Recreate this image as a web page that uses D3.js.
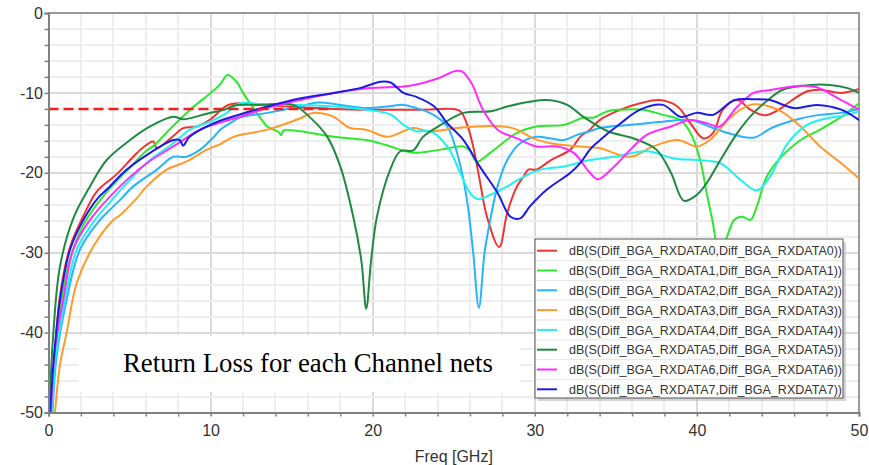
<!DOCTYPE html>
<meta charset="utf-8">
<style>
  body { margin: 0; background: #fff; }
  .grid line { shape-rendering: crispEdges; }
  .axis text { font-family: "Liberation Sans", Arial, sans-serif; font-size: 16px; fill: #333; }
  .axis path, .axis line { stroke: #808080; }
  .legend text { font-family: "Liberation Sans", Arial, sans-serif; font-size: 13.5px; fill: #333; }
</style>
<body>
<script src="https://cdn.jsdelivr.net/npm/d3@7"></script>
<script>
// series names and colours (legend order)
var names = [0,1,2,3,4,5,6,7].map(function(i) {
  return "dB(S(Diff_BGA_RXDATA" + i + ",Diff_BGA_RXDATA" + i + "))";
});
var colors = ["#f03232", "#2ee82e", "#26b4ff", "#ff9a2a", "#22f0f0", "#1f8a40", "#ff2cff", "#1c1ce8"];

// [freq GHz, dB]
var rx0 = [[0.2,-50],[0.35,-44],[0.7,-35.5],[1.33,-29.3],[2.2,-25.2],[3.0,-22.3],[4.2,-20.2],[5.23,-18],[5.85,-16.8],[6.47,-16.1],[6.68,-16.9],[7.7,-15.4],[8.3,-14.4],[9.15,-14.2],[10.0,-13.3],[11.0,-11.6],[11.8,-11.3],[13.5,-11.5],[15.5,-11.8],[17.6,-12],[19.6,-12.1],[21.1,-12.1],[23.1,-12.1],[24.8,-12],[25.4,-12.3],[25.8,-13.8],[26.2,-16.7],[26.6,-20.9],[27.05,-25.5],[27.8,-29.3],[28.3,-25],[28.9,-21.7],[29.3,-20.5],[29.6,-19.6],[30.1,-19.6],[31.0,-18.4],[32.2,-17.1],[32.8,-15.5],[33.4,-14.6],[34.0,-13.4],[35.3,-12.1],[36.5,-11.3],[37.7,-10.9],[38.8,-11.7],[39.6,-13.8],[40.4,-15.7],[41.0,-15],[41.6,-12.1],[42.5,-10.9],[43.3,-12.1],[44.2,-12.8],[45.2,-11.9],[45.6,-11.3],[46.8,-9.8],[47.6,-9.6],[48.9,-10],[50,-9.5]];
var rx1 = [[0.15,-50],[0.35,-44.5],[0.75,-36.5],[1.4,-30.3],[2.3,-26],[3.6,-22.4],[5.0,-19.4],[6.0,-17.3],[6.5,-16.6],[7.6,-14.3],[8.74,-12.1],[10.0,-10.0],[10.6,-8.9],[11.05,-7.75],[11.6,-8.6],[12.0,-10],[12.85,-12.5],[13.5,-14.2],[14.2,-14.9],[14.35,-15.3],[14.5,-14.7],[15.5,-14.8],[17.6,-15.5],[19.6,-15.9],[21.1,-16.7],[21.7,-17.1],[22.5,-17.5],[24.2,-17.1],[25.6,-16.7],[26.0,-17.2],[26.4,-18.6],[27.25,-17.5],[28.9,-15],[30.1,-14.2],[31.8,-14],[33.0,-13.1],[33.6,-13.1],[34.5,-12.3],[35.3,-12.1],[36.7,-12.1],[37.9,-12.75],[39.0,-13.4],[39.6,-15],[40.2,-18.4],[40.6,-22.5],[40.95,-25.9],[41.35,-29.5],[41.75,-28.5],[42.3,-25.9],[42.8,-25.5],[43.3,-25.9],[43.7,-24.2],[44.3,-20.5],[45.2,-18],[46.4,-15.9],[47.6,-14.6],[48.9,-13],[50,-11.3]];
var rx2 = [[0.25,-50],[0.5,-43],[1.12,-35.9],[1.94,-29.6],[3.18,-25.9],[3.6,-25.0],[4.5,-23.2],[5.23,-21.7],[6.68,-19.6],[7.7,-18],[8.5,-18],[9.35,-17.1],[10.2,-15.5],[10.6,-14.6],[11.2,-13.8],[11.8,-13.1],[13.5,-12.5],[15.5,-11.7],[16.6,-11.2],[18,-11.5],[19.6,-11.9],[20.9,-11.7],[21.9,-11.5],[22.7,-11.9],[23.75,-12.75],[24.6,-14.2],[25.2,-17.5],[25.6,-20.9],[25.9,-24.6],[26.2,-30],[26.55,-36.9],[26.9,-30],[27.25,-25.9],[27.7,-21.7],[28.3,-18.4],[29.1,-16.3],[30.1,-15.5],[31.0,-15.7],[31.8,-15.9],[32.6,-15.25],[33.4,-14.8],[34,-14.4],[35.9,-14],[37.9,-13.6],[39.6,-13.4],[41,-14.4],[42.3,-15.25],[43.5,-15.6],[44.7,-14.3],[46.4,-13.2],[47.6,-12.75],[48.9,-12.5],[50,-12]];
var rx3 = [[0.4,-50],[0.71,-44],[1.12,-40],[1.74,-33.8],[2.77,-29.2],[4.0,-25.9],[4.41,-25.3],[5.44,-23.2],[6.06,-21.7],[7.3,-19.6],[8.5,-18.6],[9.77,-17.1],[10.6,-16.4],[11.4,-15.5],[13.5,-14.6],[15.5,-13.2],[16.3,-12.5],[17.0,-12.6],[17.6,-13],[18.6,-14.4],[19.6,-14.6],[20.9,-15.5],[21.9,-14.8],[22.5,-14.4],[23.5,-14.8],[25.2,-14.4],[26.4,-14.2],[28.1,-14.2],[28.9,-14.6],[29.9,-15.7],[30.96,-16.3],[32.2,-16.6],[33.4,-16.8],[34,-16.9],[35.9,-18],[37.3,-16.7],[38.8,-15.9],[40,-16.7],[40.8,-15.9],[42.1,-13],[43.3,-11.5],[44.3,-11.6],[45.2,-12.3],[46.4,-14.2],[47.6,-16.7],[48.9,-18.8],[50,-20.7]];
var rx4 = [[0.22,-50],[0.45,-43],[1.02,-35.9],[1.74,-29.6],[2.87,-25.9],[4.0,-23.2],[4.83,-21.3],[6.27,-18.4],[7.7,-16.3],[8.73,-14.6],[9.97,-13.6],[11.0,-12.5],[11.8,-11.3],[13.5,-11.5],[15.5,-11.5],[17.6,-11.7],[19.6,-12.1],[21.1,-12.7],[21.9,-14],[22.7,-14.8],[23.55,-14.8],[24.6,-16.7],[25.4,-20],[26.0,-22.5],[26.5,-23.3],[27.25,-22.75],[28.3,-21.7],[29.3,-20.5],[30.35,-19.6],[31.8,-19.2],[33.4,-18.4],[34.9,-18],[36.9,-17.3],[38.6,-18.2],[40,-18.4],[41.45,-18.8],[42.7,-20.9],[43.7,-22.2],[44.5,-20.5],[45.6,-16.3],[46.8,-14],[48,-13.2],[49.3,-12.75],[50,-12.3]];
var rx5 = [[0.05,-50],[0.3,-40],[0.71,-31.7],[1.53,-25.7],[2.56,-21.7],[3.59,-18.4],[5.03,-15.9],[6.27,-14.2],[7.7,-13.0],[8.32,-13.3],[9.77,-12.6],[11.0,-12.0],[11.4,-11.6],[13,-11.5],[15.1,-11.5],[16.1,-13],[17.2,-15.5],[18.0,-19.2],[18.8,-25.5],[19.3,-31],[19.6,-37],[19.9,-31],[20.26,-25.5],[21.08,-19.6],[21.7,-17.3],[22.5,-17.2],[23.1,-15.5],[24.2,-14],[25.6,-12.5],[27.3,-12.3],[28.3,-11.7],[29.7,-11.1],[30.75,-10.9],[32.0,-11.5],[33.0,-13],[34.5,-14.8],[36.1,-15.7],[37.5,-17.1],[38.4,-20],[39.2,-23.5],[40,-22.75],[40.6,-21.3],[41.45,-18.4],[42.5,-15],[43.5,-12.5],[44.5,-10.7],[45.3,-9.6],[47,-9],[48.2,-9],[49.3,-9.4],[50,-10]];
var rx6 = [[0.15,-50],[0.4,-42],[0.91,-35.9],[1.53,-29.6],[2.56,-25.9],[4.41,-21.7],[6.06,-18.8],[7.7,-16.7],[9.35,-14.6],[10.8,-13.6],[11.8,-13],[13.5,-11.9],[15.5,-10.9],[17.6,-10],[19.85,-9.4],[22.3,-9.1],[24,-8.2],[25.1,-7.25],[25.5,-7.3],[26.1,-8.8],[26.8,-12.1],[27.7,-14.6],[28.9,-15.7],[30.1,-16.7],[31.4,-16.7],[32.4,-17.5],[33.4,-20],[33.9,-20.8],[34.9,-19.2],[35.9,-17.1],[36.9,-15.25],[38.4,-14.2],[39.6,-13.4],[40.6,-13.8],[41.4,-14.2],[42.5,-11.7],[43.5,-10],[44.3,-9.7],[46.4,-9.1],[47.4,-9.3],[48.9,-10.9],[50,-12.1]];
var rx7 = [[0.1,-50],[0.3,-44],[0.71,-35.9],[1.33,-29.6],[2.15,-25.9],[3.07,-23.1],[3.59,-22.1],[4.83,-19.6],[6.27,-17.5],[7.7,-15.9],[8.1,-15.9],[8.3,-16.6],[8.7,-15.5],[10.2,-13.8],[11.8,-12.7],[13.5,-11.7],[15.5,-10.7],[17.6,-10],[19.2,-9.4],[20.5,-8.6],[21.1,-8.7],[21.9,-10],[22.7,-10.5],[23.8,-11.7],[24.6,-13.8],[25.6,-15.9],[26.6,-19.2],[27.7,-22.5],[28.5,-25.5],[29.1,-25.7],[29.7,-24.2],[30.75,-22.1],[32.2,-20],[32.8,-18.8],[33.4,-17.1],[33.8,-16.3],[35.3,-13.8],[36.5,-12.1],[37.9,-11.5],[39,-13],[40,-12.5],[41,-12.75],[42.3,-10.9],[43.5,-10.8],[44.5,-10.9],[46,-11.9],[47.4,-11.5],[48.9,-12.1],[50,-13.4]];
var series = [rx0, rx1, rx2, rx3, rx4, rx5, rx6, rx7];

// -12 dB limit line
var limitFreq = [0, 17.4];
var limitDb = -12;

var xTicks = [0, 10, 20, 30, 40, 50];
var yTicks = [0, -10, -20, -30, -40, -50];
var title = "Return Loss for each Channel nets";
var xLabel = "Freq [GHz]";

var width = 869, height = 465;
var x = d3.scaleLinear().domain([0, 50]).range([48.5, 859]);
var y = d3.scaleLinear().domain([-50, 0]).range([412.5, 13]);

var svg = d3.select("body").append("svg")
    .attr("width", width)
    .attr("height", height);

svg.append("defs").append("clipPath").attr("id", "plot")
  .append("rect")
    .attr("x", x(0)).attr("y", y(0))
    .attr("width", x(50) - x(0)).attr("height", y(-50) - y(0));

// grid
var grid = svg.append("g").attr("class", "grid");
grid.selectAll(".vx").data(d3.range(2, 50, 2)).enter().append("line")
    .attr("x1", function(d) { return Math.round(x(d)); })
    .attr("x2", function(d) { return Math.round(x(d)); })
    .attr("y1", y(0)).attr("y2", y(-50))
    .attr("stroke", function(d) { return d % 10 == 0 ? "#dadada" : "#eeeeee"; })
    .attr("stroke-width", 2);
grid.selectAll(".hy").data(d3.range(-48, 0, 2)).enter().append("line")
    .attr("y1", function(d) { return Math.round(y(d)); })
    .attr("y2", function(d) { return Math.round(y(d)); })
    .attr("x1", x(0)).attr("x2", x(50))
    .attr("stroke", function(d) { return d % 10 == 0 ? "#dadada" : "#eeeeee"; })
    .attr("stroke-width", 2);

// frame top / right
svg.append("path")
    .attr("d", "M" + x(0) + "," + y(0) + "H" + x(50) + "V" + y(-50))
    .attr("fill", "none")
    .attr("stroke", "#9a9a9a")
    .attr("stroke-width", 2);

// title box (covers grid)
svg.append("rect")
    .attr("x", 78).attr("y", 336)
    .attr("width", 442).attr("height", 56)
    .attr("fill", "#fff");
svg.append("text")
    .attr("x", 123).attr("y", 371.5)
    .style("font-family", "'Liberation Serif', 'Times New Roman', serif")
    .style("font-size", "26.8px")
    .style("fill", "#000")
    .text(title);

// curves
var line = d3.line()
    .x(function(d) { return x(d[0]); })
    .y(function(d) { return y(d[1]); })
    .curve(d3.curveCatmullRom.alpha(0.5));

svg.append("g").attr("clip-path", "url(#plot)")
  .selectAll("path").data(series).enter().append("path")
    .attr("d", line)
    .attr("fill", "none")
    .attr("stroke", function(d, i) { return colors[i]; })
    .attr("stroke-width", 2)
    .attr("stroke-linejoin", "round");

svg.append("line")
    .attr("x1", x(limitFreq[0])).attr("x2", x(limitFreq[1]))
    .attr("y1", y(limitDb)).attr("y2", y(limitDb))
    .attr("stroke", "#f02020")
    .attr("stroke-width", 2.5)
    .attr("stroke-dasharray", "10,5");

// axes
var yAxis = d3.axisLeft(y)
    .tickValues(d3.range(-50, 1, 2))
    .tickSize(4).tickPadding(1.5)
    .tickFormat(function(d) { return yTicks.indexOf(d) >= 0 ? d : ""; });
var xAxis = d3.axisBottom(x)
    .tickValues(d3.range(0, 51, 2))
    .tickSize(4).tickPadding(8)
    .tickFormat(function(d) { return xTicks.indexOf(d) >= 0 ? d : ""; });

var gy = svg.append("g").attr("class", "axis").attr("transform", "translate(" + x(0) + ",0)").call(yAxis);
var gx = svg.append("g").attr("class", "axis").attr("transform", "translate(0," + y(-50) + ")").call(xAxis);
[gx, gy].forEach(function(g) {
  g.select(".domain").attr("stroke", "#7a7a7a").attr("stroke-width", 2);
  g.selectAll(".tick line").attr("stroke", "#7a7a7a").attr("stroke-width", 1.5);
});

svg.append("text")
    .attr("class", "axis")
    .attr("x", (x(0) + x(50)) / 2).attr("y", 462)
    .attr("text-anchor", "middle")
    .style("font-family", "'Liberation Sans', Arial, sans-serif")
    .style("font-size", "16px").style("fill", "#333")
    .text(xLabel);

// legend
var lg = svg.append("g").attr("class", "legend").attr("transform", "translate(535,239)");
lg.append("rect")
    .attr("x", 3).attr("y", 3).attr("width", 308).attr("height", 159)
    .attr("fill", "#b8b8b8").attr("opacity", 0.6);
lg.append("rect")
    .attr("x", 0).attr("y", 0).attr("width", 308).attr("height", 159)
    .attr("fill", "#fff").attr("stroke", "#555").attr("stroke-width", 1);
var rowH = 19.8;
var rows = lg.selectAll(".row").data(names).enter().append("g")
    .attr("transform", function(d, i) { return "translate(0," + (11.7 + i * rowH) + ")"; });
rows.filter(function(d, i) { return i > 0; }).append("line")
    .attr("x1", 1).attr("x2", 307)
    .attr("y1", -rowH / 2).attr("y2", -rowH / 2)
    .attr("stroke", "#e6e6e6").attr("stroke-width", 1);
rows.append("line")
    .attr("x1", 2).attr("x2", 22)
    .attr("stroke", function(d, i) { return colors[i]; })
    .attr("stroke-width", 2);
rows.append("text")
    .attr("x", 34).attr("dy", "0.35em")
    .attr("textLength", 273).attr("lengthAdjust", "spacingAndGlyphs")
    .text(function(d) { return d; });
</script>
</body>
